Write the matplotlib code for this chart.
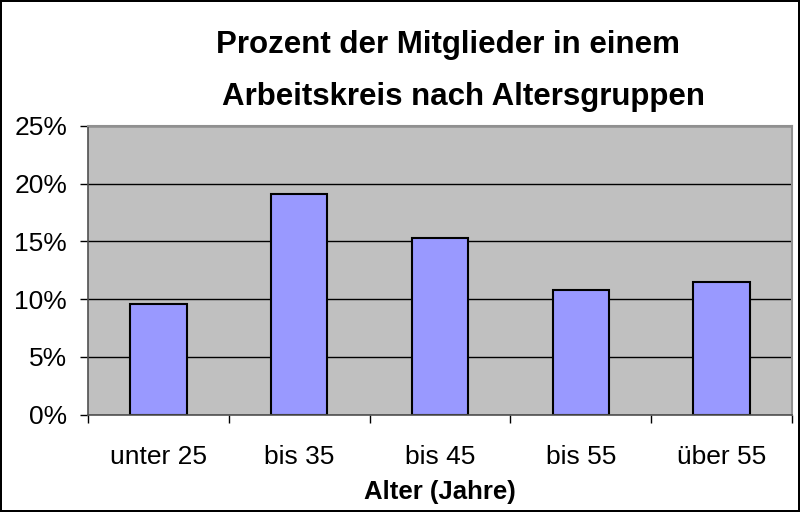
import matplotlib.pyplot as plt
from matplotlib.ticker import FuncFormatter

plt.rcParams['font.family'] = ['Liberation Sans', 'DejaVu Sans']

groups = ["unter 25", "bis 35", "bis 45", "bis 55", "über 55"]
percent = [9.6, 19.1, 15.3, 10.8, 11.5]
yticks = [0, 5, 10, 15, 20, 25]

fig = plt.figure(figsize=(8, 5.12), dpi=100)
fig.patch.set_edgecolor('black')
fig.patch.set_linewidth(1.5)

ax = fig.add_axes([0.11, 0.19, 0.88, 0.564])
ax.set_facecolor('#c0c0c0')
ax.set_axisbelow(True)
ax.yaxis.grid(True, color='black', linewidth=1)

x = list(range(len(groups)))
ax.bar(x, percent, width=0.4, color='#9999ff', edgecolor='black', linewidth=1.5)

ax.set_xlim(-0.5, len(groups) - 0.5)
ax.set_ylim(0, 25)
ax.set_yticks(yticks)
ax.yaxis.set_major_formatter(FuncFormatter(lambda v, p: f"{v:.0f}%"))
ax.tick_params(axis='y', length=6, width=1, pad=9, labelsize=19, direction='out')

ax.set_xticks(x)
ax.set_xticklabels(groups)
ax.set_xticks([i - 0.5 for i in range(len(groups) + 1)], minor=True)
ax.tick_params(axis='x', which='major', length=0, pad=22, labelsize=19)
ax.tick_params(axis='x', which='minor', length=6, width=1, direction='out')

for side in ['top', 'right']:
    ax.spines[side].set_color('#909090')
    ax.spines[side].set_linewidth(1.5)
for side in ['left', 'bottom']:
    ax.spines[side].set_color('#505050')
    ax.spines[side].set_linewidth(1.2)

ax.set_xlabel("Alter (Jahre)", fontsize=18.5, fontweight='bold', labelpad=8)

fig.text(0.56, 0.912, "Prozent der Mitglieder in einem", ha='center', va='center',
         fontsize=22.5, fontweight='bold')
fig.text(0.58, 0.81, "Arbeitskreis nach Altersgruppen", ha='center', va='center',
         fontsize=22.5, fontweight='bold')

fig.savefig("out.png", dpi=100, edgecolor=fig.get_edgecolor())
